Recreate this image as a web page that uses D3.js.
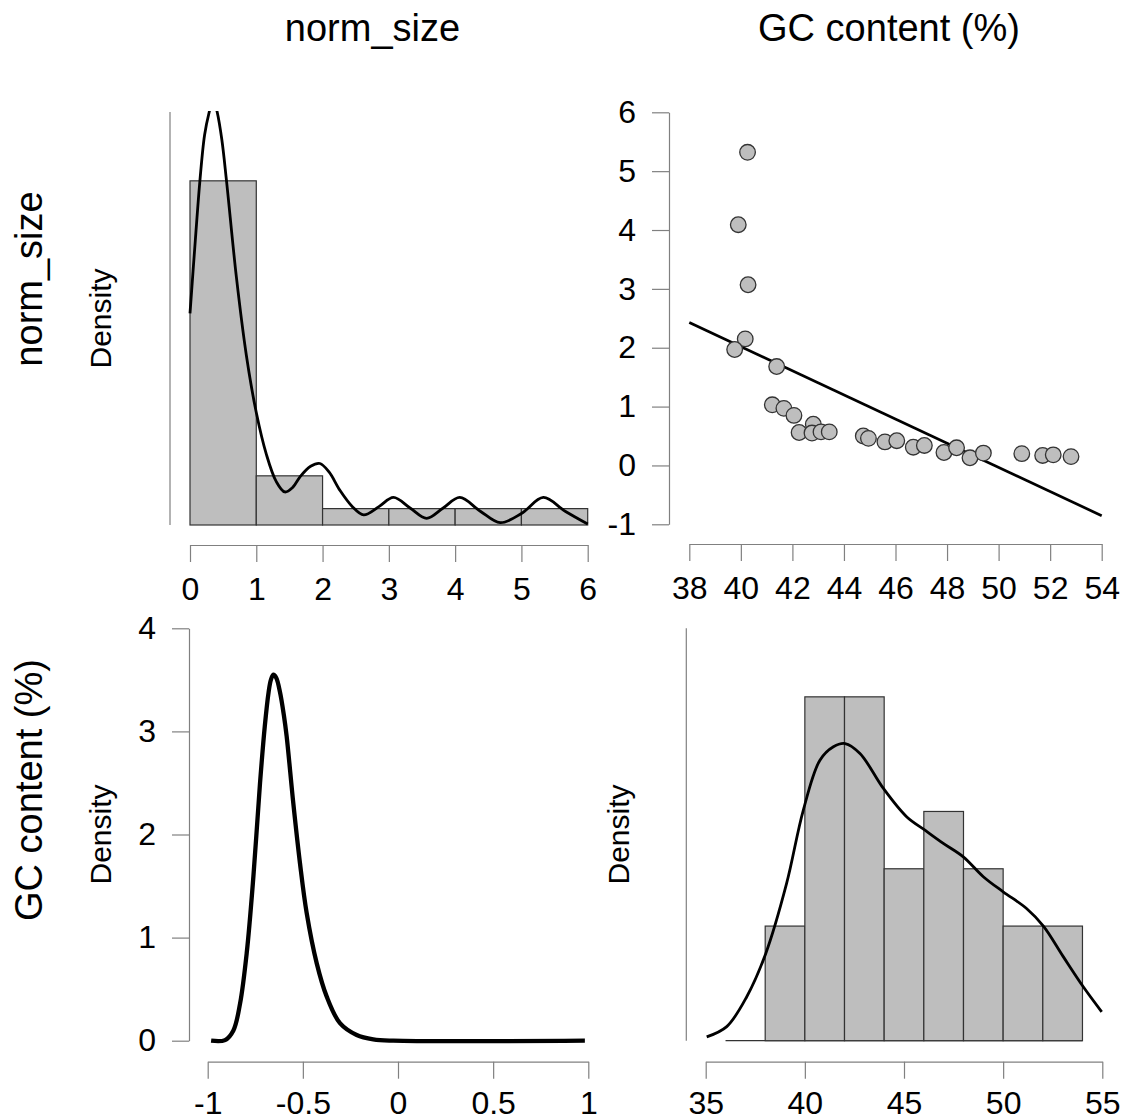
<!DOCTYPE html>
<html lang="en">
<head>
	<meta charset="UTF-8">
	<title>Correlation matrix</title>
	<script type="text/javascript" src="https://cdn.jsdelivr.net/npm/d3@7/dist/d3.min.js"></script>
	<style>
		body {
			margin: 0;
			background: #fff;
		}
		svg text {
			font-family: "Liberation Sans", Arial, sans-serif;
			fill: #000;
		}
	</style>
</head>
<body>
<div id="viz"></div>

<script type="text/javascript">
	// variable names
	var varNames = ['norm_size', 'GC content (%)'];

	var gcContent = [40.26, 39.90, 40.28, 40.17, 39.76, 41.39, 41.22, 41.67, 42.06, 42.26,
		42.81, 42.76, 43.11, 43.43, 44.75, 44.95, 45.59, 46.05, 46.69, 47.12,
		47.88, 48.37, 48.89, 49.41, 50.90, 51.71, 52.12, 52.81];
	var normSize = [5.32, 4.09, 3.07, 2.15, 1.97, 1.68, 1.03, 0.97, 0.85, 0.56,
		0.70, 0.55, 0.57, 0.57, 0.50, 0.46, 0.40, 0.42, 0.31, 0.34,
		0.22, 0.30, 0.13, 0.21, 0.20, 0.17, 0.18, 0.15];

	// histogram breaks
	var normBreaks = [0, 1, 2, 3, 4, 5, 6];
	var gcBreaks = [38, 40, 42, 44, 46, 48, 50, 52, 54];
	var gcBaseline = [36, 54];

	// density curve of norm_size
	var normDensX = [0, 0.08, 0.15, 0.22, 0.29, 0.35, 0.41, 0.48, 0.55, 0.70, 0.85, 1.0, 1.15, 1.30, 1.43, 1.55, 1.66, 1.82, 1.96, 2.10, 2.26, 2.45,
		2.62, 2.85, 3.07, 3.32, 3.57, 3.82, 4.07, 4.38, 4.68, 5.0, 5.33, 5.66, 6.0];
	var normDensY = [0.461, 0.62, 0.751, 0.85, 0.90, 0.93, 0.90, 0.84, 0.751, 0.54, 0.37, 0.245, 0.155, 0.095, 0.072, 0.082, 0.105, 0.128, 0.134, 0.115, 0.076, 0.040,
		0.022, 0.040, 0.060, 0.037, 0.0145, 0.037, 0.060, 0.030, 0.005, 0.025, 0.060, 0.030, 0.002];

	// density curve of GC content
	var gcDensX = [35.05, 36.06, 37.07, 38.03, 39.08, 39.92, 40.76, 41.44, 42.03, 42.78, 43.96, 45.13, 46.06, 46.98,
		47.99, 49.0, 50.0, 51.18, 52.03, 53.03, 54.04, 54.97];
	var gcDensY = [0.0012, 0.0044, 0.0137, 0.0272, 0.049, 0.0718, 0.0874, 0.0916, 0.0926, 0.0895, 0.0786, 0.0698, 0.0656, 0.0615,
		0.0573, 0.0511, 0.0464, 0.0412, 0.0357, 0.0262, 0.0168, 0.009];

	// posterior density of the correlation
	var rhoX = [-0.982, -0.909, -0.865, -0.830, -0.795, -0.760, -0.725, -0.700, -0.680, -0.668, -0.655, -0.640, -0.620, -0.600, -0.585, -0.550,
		-0.515, -0.480, -0.427, -0.375, -0.305, -0.217, -0.130, -0.025, 0.982];
	var rhoY = [0, 0.006, 0.10, 0.36, 0.85, 1.59, 2.50, 3.05, 3.38, 3.50, 3.55, 3.52, 3.38, 3.16, 2.95, 2.30,
		1.72, 1.24, 0.75, 0.43, 0.17, 0.055, 0.013, 0, 0];

	// regression line
	var fitX = [38, 54];
	var fitY = [2.43, -0.854];

	// tick values
	var normTicks = [0, 1, 2, 3, 4, 5, 6];
	var gcTicks = [38, 40, 42, 44, 46, 48, 50, 52, 54];
	var scatterYTicks = [-1, 0, 1, 2, 3, 4, 5, 6];
	var rhoXTicks = [-1, -0.5, 0, 0.5, 1];
	var rhoYTicks = [0, 1, 2, 3, 4];
	var gcHistTicks = [35, 40, 45, 50, 55];

	var W = 1124, H = 1120;
	var tickFont = 32, titleFont = 38, densFont = 30;
	var axisGrey = '#808080';

	var svg = d3.select('#viz').append('svg')
		.attr('width', W)
		.attr('height', H);

	var defs = svg.append('defs');

	function styleAxis(g) {
		g.select('.domain').attr('stroke', axisGrey).attr('stroke-width', 1.2);
		g.selectAll('.tick line').attr('stroke', axisGrey).attr('stroke-width', 1.2);
		g.selectAll('.tick text')
			.attr('font-size', tickFont)
			.attr('font-family', '"Liberation Sans", Arial, sans-serif')
			.attr('fill', '#000');
	}

	function fmt(d) {
		return String(d);
	}

	function bottomAxis(scale, ticks, yPos, pad) {
		var ax = d3.axisBottom(scale).tickValues(ticks).tickFormat(fmt)
			.tickSizeInner(17).tickSizeOuter(0).tickPadding(pad);
		svg.append('g')
			.attr('transform', 'translate(0,' + yPos + ')')
			.call(ax)
			.call(styleAxis);
	}

	function leftAxis(scale, ticks, xPos) {
		var ax = d3.axisLeft(scale).tickValues(ticks).tickFormat(fmt)
			.tickSizeInner(17).tickSizeOuter(0).tickPadding(16);
		svg.append('g')
			.attr('transform', 'translate(' + xPos + ',0)')
			.call(ax)
			.call(styleAxis);
	}

	function densityLabel(cx, cy) {
		svg.append('text')
			.attr('transform', 'translate(' + cx + ',' + cy + ') rotate(-90)')
			.attr('text-anchor', 'middle')
			.attr('font-size', densFont)
			.text('Density');
	}

	function histogram(values, breaks, x, y, clipId) {
		var bins = d3.bin().domain([breaks[0], breaks[breaks.length - 1]])
			.thresholds(breaks.slice(1, -1))(values);
		var n = values.length;
		svg.append('g').attr('clip-path', clipId ? 'url(#' + clipId + ')' : null)
			.selectAll('rect')
			.data(bins)
			.enter().append('rect')
			.attr('x', function (d) { return x(d.x0); })
			.attr('width', function (d) { return x(d.x1) - x(d.x0); })
			.attr('y', function (d) { return y(d.length / (n * (d.x1 - d.x0))); })
			.attr('height', function (d) { return y(0) - y(d.length / (n * (d.x1 - d.x0))); })
			.attr('fill', '#bebebe')
			.attr('stroke', '#333')
			.attr('stroke-width', 1.2);
	}

	function curve(xs, ys, x, y, width, clipId) {
		var pts = xs.map(function (v, i) { return [v, ys[i]]; });
		var line = d3.line()
			.x(function (d) { return x(d[0]); })
			.y(function (d) { return y(d[1]); })
			.curve(d3.curveCatmullRom.alpha(0.5));
		svg.append('path')
			.datum(pts)
			.attr('clip-path', clipId ? 'url(#' + clipId + ')' : null)
			.attr('d', line)
			.attr('fill', 'none')
			.attr('stroke', '#000')
			.attr('stroke-width', width)
			.attr('stroke-linejoin', 'round');
	}

	// ---------- top-left : histogram of norm_size ----------
	var x11 = d3.scaleLinear().domain([0, 6]).range([190, 587.7]);
	var y11 = d3.scaleLinear().domain([0, 0.9]).range([525, 112]);

	defs.append('clipPath').attr('id', 'clip11')
		.append('rect').attr('x', 150).attr('y', y11(0.9) - 1).attr('width', 460).attr('height', 430);

	svg.append('line')
		.attr('x1', 170).attr('x2', 170)
		.attr('y1', y11(0.9)).attr('y2', y11(0))
		.attr('stroke', axisGrey).attr('stroke-width', 1.2);

	histogram(normSize, normBreaks, x11, y11, 'clip11');
	curve(normDensX, normDensY, x11, y11, 2.8, 'clip11');
	bottomAxis(x11, normTicks, 545, 15);
	densityLabel(111, (y11(0) + y11(0.9)) / 2);

	// ---------- top-right : scatter ----------
	var x12 = d3.scaleLinear().domain([38, 54]).range([689.3, 1101.7]);
	var y12 = d3.scaleLinear().domain([-1, 6]).range([524.3, 112.3]);

	leftAxis(y12, scatterYTicks, 669);
	bottomAxis(x12, gcTicks, 544, 15);

	svg.append('line')
		.attr('x1', x12(fitX[0])).attr('y1', y12(fitY[0]))
		.attr('x2', x12(fitX[1])).attr('y2', y12(fitY[1]))
		.attr('stroke', '#000').attr('stroke-width', 2.7);

	svg.append('g').selectAll('circle')
		.data(gcContent)
		.enter().append('circle')
		.attr('cx', function (d) { return x12(d); })
		.attr('cy', function (d, i) { return y12(normSize[i]); })
		.attr('r', 7.8)
		.attr('fill', '#bebebe')
		.attr('stroke', '#333')
		.attr('stroke-width', 1.3);

	// ---------- bottom-left : correlation posterior ----------
	var x21 = d3.scaleLinear().domain([-1, 1]).range([207.7, 588.3]);
	var y21 = d3.scaleLinear().domain([0, 4]).range([1040.7, 628.3]);

	leftAxis(y21, rhoYTicks, 189);
	bottomAxis(x21, rhoXTicks, 1061.7, 13);
	curve(rhoX, rhoY, x21, y21, 4.3, null);
	densityLabel(111, (y21(0) + y21(4)) / 2);

	// ---------- bottom-right : histogram of GC content ----------
	var x22 = d3.scaleLinear().domain([35, 55]).range([705.7, 1102.3]);
	var y22 = d3.scaleLinear().domain([0, 0.1285]).range([1040.7, 628.3]);

	svg.append('line')
		.attr('x1', 686.3).attr('x2', 686.3)
		.attr('y1', y22(0.1285)).attr('y2', y22(0))
		.attr('stroke', axisGrey).attr('stroke-width', 1.2);

	svg.append('line')
		.attr('x1', x22(gcBaseline[0])).attr('x2', x22(gcBaseline[1]))
		.attr('y1', y22(0)).attr('y2', y22(0))
		.attr('stroke', '#333').attr('stroke-width', 1.2);

	histogram(gcContent, gcBreaks, x22, y22, null);
	curve(gcDensX, gcDensY, x22, y22, 2.8, null);
	bottomAxis(x22, gcHistTicks, 1061.7, 13);
	densityLabel(629, (y22(0) + y22(0.1285)) / 2);

	// ---------- variable titles ----------
	var colCenters = [372.5, 889];
	var rowCenters = [279, 790];

	svg.selectAll('.col-title')
		.data(varNames)
		.enter().append('text')
		.attr('class', 'col-title')
		.attr('x', function (d, i) { return colCenters[i]; })
		.attr('y', 41)
		.attr('text-anchor', 'middle')
		.attr('font-size', titleFont)
		.text(function (d) { return d; });

	svg.selectAll('.row-title')
		.data(varNames)
		.enter().append('text')
		.attr('class', 'row-title')
		.attr('transform', function (d, i) { return 'translate(42,' + rowCenters[i] + ') rotate(-90)'; })
		.attr('text-anchor', 'middle')
		.attr('font-size', titleFont)
		.text(function (d) { return d; });
</script>
</body>
</html>
